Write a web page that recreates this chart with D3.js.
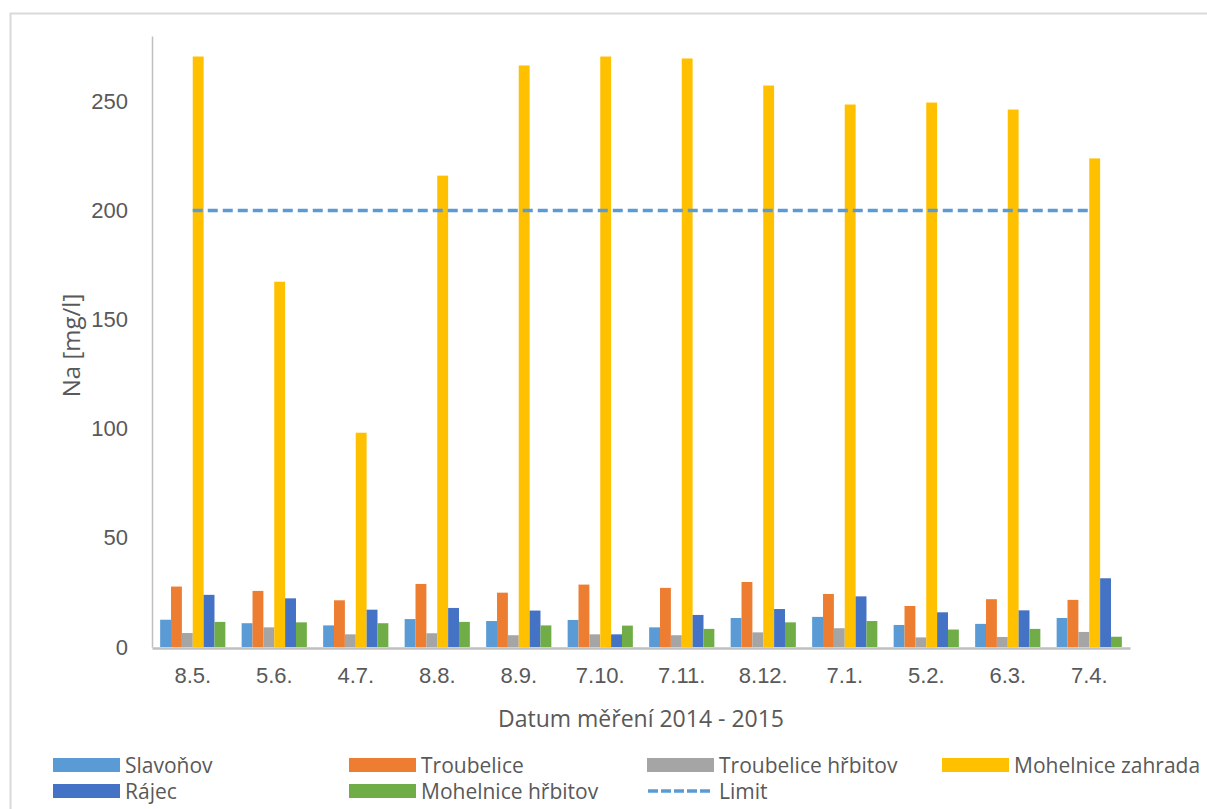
<!DOCTYPE html>
<html>
<head>
<meta charset="utf-8">
<script src="https://cdn.jsdelivr.net/npm/d3@7"></script>
<style>
  html, body { margin: 0; padding: 0; background: #fff; }
  svg { display: block; font-family: "Open Sans", "Noto Sans", sans-serif; }
</style>
</head>
<body>
<svg id="chart" width="1207" height="809"></svg>
<script>
// Sampling dates (2014 - 2015)
const dates = ["8.5.", "5.6.", "4.7.", "8.8.", "8.9.", "7.10.", "7.11.", "8.12.", "7.1.", "5.2.", "6.3.", "7.4."];

// Sodium concentration per site [mg/l]
const slavonov          = [12.5, 10.9, 9.9, 12.8, 11.9, 12.4, 9.0, 13.3, 13.8, 10.1, 10.6, 13.3];
const troubelice        = [27.7, 25.7, 21.4, 28.9, 24.9, 28.6, 27.1, 29.8, 24.3, 18.8, 21.9, 21.6];
const troubeliceHrbitov = [6.4, 9.0, 5.8, 6.3, 5.4, 5.8, 5.4, 6.7, 8.6, 4.4, 4.6, 6.9];
const mohelniceZahrada  = [270.6, 167.4, 98.2, 216.0, 266.5, 270.6, 269.7, 257.3, 248.6, 249.5, 246.3, 223.9];
const rajec             = [23.9, 22.3, 17.1, 17.9, 16.7, 5.8, 14.7, 17.4, 23.2, 15.9, 16.8, 31.5];
const mohelniceHrbitov  = [11.5, 11.3, 10.9, 11.5, 9.9, 9.8, 8.3, 11.3, 11.9, 8.0, 8.3, 4.7];

// Limit value
const limitValue = 200;

const yTicks = [0, 50, 100, 150, 200, 250];

const seriesNames  = ["Slavoňov", "Troubelice", "Troubelice hřbitov", "Mohelnice zahrada", "Rájec", "Mohelnice hřbitov"];
const seriesValues = [slavonov, troubelice, troubeliceHrbitov, mohelniceZahrada, rajec, mohelniceHrbitov];
const seriesColors = ["#5b9bd5", "#ed7d31", "#a5a5a5", "#ffc000", "#4472c4", "#70ad47"];

const svg = d3.select("#chart");
const textColor = "#595959";

// chart frame
svg.append("rect")
  .attr("x", 10.5).attr("y", 13.5)
  .attr("width", 1230).attr("height", 830)
  .attr("fill", "none").attr("stroke", "#d9d9d9").attr("stroke-width", 2);

const plot = { left: 152, right: 1130, top: 36, bottom: 647 };

const x = d3.scaleBand().domain(dates).range([plot.left, plot.right]).paddingInner(0).paddingOuter(0);
const y = d3.scaleLinear().domain([0, 280]).range([plot.bottom, plot.top]);

// bar geometry: gap between clusters = 150% of a bar width
const nSeries = seriesNames.length;
const barW = x.bandwidth() / (nSeries + 1.5);
const xInner = d3.scaleBand().domain(d3.range(nSeries))
  .range([barW * 0.75, barW * 0.75 + barW * nSeries]);

// bars
seriesValues.forEach((vals, si) => {
  svg.append("g")
    .selectAll("rect")
    .data(vals)
    .join("rect")
    .attr("x", (d, i) => x(dates[i]) + xInner(si))
    .attr("width", xInner.bandwidth())
    .attr("y", d => y(d))
    .attr("height", d => y(0) - y(d))
    .attr("fill", seriesColors[si]);
});

// y axis
const yAxis = d3.axisLeft(y).tickValues(yTicks).tickSize(0).tickPadding(24);
const gy = svg.append("g").attr("transform", `translate(${plot.left},0)`).call(yAxis);
gy.select(".domain").attr("stroke", "#bfbfbf").attr("stroke-width", 1.5);
gy.selectAll("text").attr("fill", textColor).style("font-size", "22px");

// x axis
const xAxis = d3.axisBottom(x).tickSize(0).tickPadding(19);
const gx = svg.append("g").attr("transform", `translate(0,${plot.bottom + 1})`).call(xAxis);
gx.select(".domain").attr("stroke", "#bfbfbf").attr("stroke-width", 2.5);
gx.selectAll("text").attr("fill", textColor).style("font-size", "22px");

// limit line
const limitLine = d3.line().x(d => x(d) + x.bandwidth() / 2).y(() => y(limitValue));
svg.append("path")
  .datum(dates)
  .attr("d", limitLine)
  .attr("fill", "none")
  .attr("stroke", "#5b9bd5")
  .attr("stroke-width", 3.5)
  .attr("stroke-dasharray", "10 5");

// axis titles
svg.append("text")
  .attr("transform", `translate(80,${(plot.top + plot.bottom) / 2 + 4}) rotate(-90)`)
  .attr("text-anchor", "middle")
  .attr("fill", textColor)
  .style("font-size", "24px")
  .text("Na [mg/l]");

svg.append("text")
  .attr("x", 641).attr("y", 727)
  .attr("text-anchor", "middle")
  .attr("fill", textColor)
  .style("font-size", "23px")
  .text("Datum měření 2014 - 2015");

// legend
const legendItems = [
  { name: "Slavoňov", color: seriesColors[0], type: "bar", col: 0, row: 0 },
  { name: "Troubelice", color: seriesColors[1], type: "bar", col: 1, row: 0 },
  { name: "Troubelice hřbitov", color: seriesColors[2], type: "bar", col: 2, row: 0 },
  { name: "Mohelnice zahrada", color: seriesColors[3], type: "bar", col: 3, row: 0 },
  { name: "Rájec", color: seriesColors[4], type: "bar", col: 0, row: 1 },
  { name: "Mohelnice hřbitov", color: seriesColors[5], type: "bar", col: 1, row: 1 },
  { name: "Limit", color: "#5b9bd5", type: "line", col: 2, row: 1 }
];
const colX = [53, 349, 647, 942];
const rowY = [765, 791];

const lg = svg.append("g").selectAll("g").data(legendItems).join("g")
  .attr("transform", d => `translate(${colX[d.col]},${rowY[d.row]})`);

lg.filter(d => d.type === "bar").append("rect")
  .attr("x", 0).attr("y", -7).attr("width", 67).attr("height", 14)
  .attr("fill", d => d.color);

lg.filter(d => d.type === "line").append("line")
  .attr("x1", 1).attr("x2", 66).attr("y1", 0).attr("y2", 0)
  .attr("stroke", d => d.color).attr("stroke-width", 3.5)
  .attr("stroke-dasharray", "10 3");

lg.append("text")
  .attr("x", 72).attr("y", 7.5)
  .attr("fill", textColor)
  .style("font-size", "21px")
  .text(d => d.name);
</script>
</body>
</html>
